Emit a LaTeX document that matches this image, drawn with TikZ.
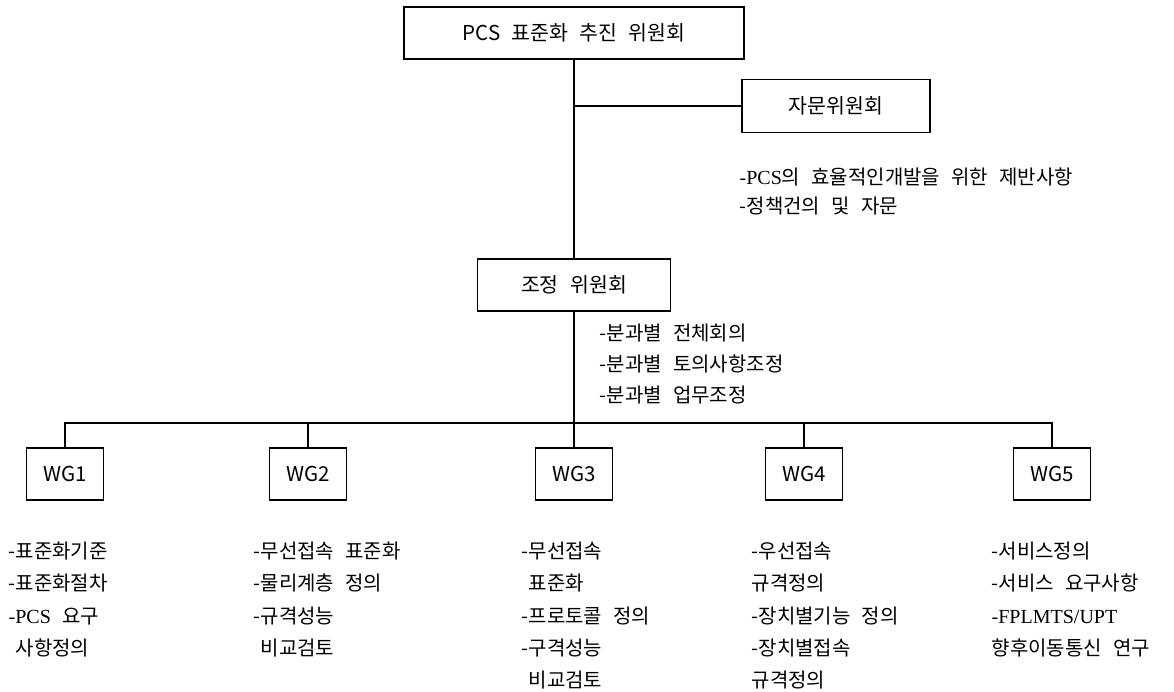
\documentclass[tikz,border=0pt]{standalone}
\usepackage{fontspec}
\setmainfont[WordSpace=2.5]{Noto Sans CJK KR}
\newfontfamily\timesrm{Liberation Serif}

\begin{document}
\begin{tikzpicture}[x=1pt,y=-1pt,line width=1.4pt,
  box/.style={draw,inner sep=0pt,minimum height=52,font=\fontsize{20.5}{25}\selectfont},
  wgbox/.style={box,minimum width=77},
  note/.style={anchor=north west,inner sep=0pt,align=left,font=\fontsize{20}{32.4}\selectfont}]
  \useasboundingbox (0,0) rectangle (1174,692);
  % committees
  \node[box,minimum width=340] (pcs) at (574,33) {PCS 표준화 추진 위원회};
  \node[box,minimum width=188,minimum height=53] (adv) at (836,106) {자문위원회};
  \node[box,minimum width=193] (coord) at (574,285) {조정 위원회};
  \coordinate (advj) at (pcs.south |- adv.west);
  \draw (pcs.south) -- (coord.north);
  \draw (advj) -- (adv.west);
  \node[note,font=\fontsize{20}{29}\selectfont] (advtxt) at (739,167) {{\timesrm -PCS}의 효율적인개발을 위한 제반사항\\-정책건의 및 자문};
  \node[note,font=\fontsize{20}{31}\selectfont] (coordtxt) at (599,323) {-분과별 전체회의\\-분과별 토의사항조정\\-분과별 업무조정};
  % working groups
  \foreach \i/\x in {1/65,2/308,3/574,4/804,5/1052}
    \node[wgbox] (wg\i) at (\x,474) {WG\i};
  \coordinate (bus) at (0,423);
  \draw (coord.south) -- (wg3.north);
  \draw (wg1.north) |- (bus -| wg5.north) -- (wg5.north);
  \foreach \i in {2,4}
    \draw (wg\i.north) -- (wg\i.north |- bus);
  \node[note] (wg1txt) at (8,541) {-표준화기준\\-표준화절차\\{\timesrm -PCS} 요구\\\hphantom{-}사항정의};
  \node[note] (wg2txt) at (253,541) {-무선접속 표준화\\-물리계층 정의\\-규격성능\\\hphantom{-}비교검토};
  \node[note] (wg3txt) at (521,541) {-무선접속\\\hphantom{-}표준화\\-프로토콜 정의\\-구격성능\\\hphantom{-}비교검토};
  \node[note] (wg4txt) at (751,541) {-우선접속\\규격정의\\-장치별기능 정의\\-장치별접속\\규격정의};
  \node[note] (wg5txt) at (991,541) {-서비스정의\\-서비스 요구사항\\{\timesrm -FPLMTS/UPT}\\향후이동통신 연구};
\end{tikzpicture}
\end{document}
